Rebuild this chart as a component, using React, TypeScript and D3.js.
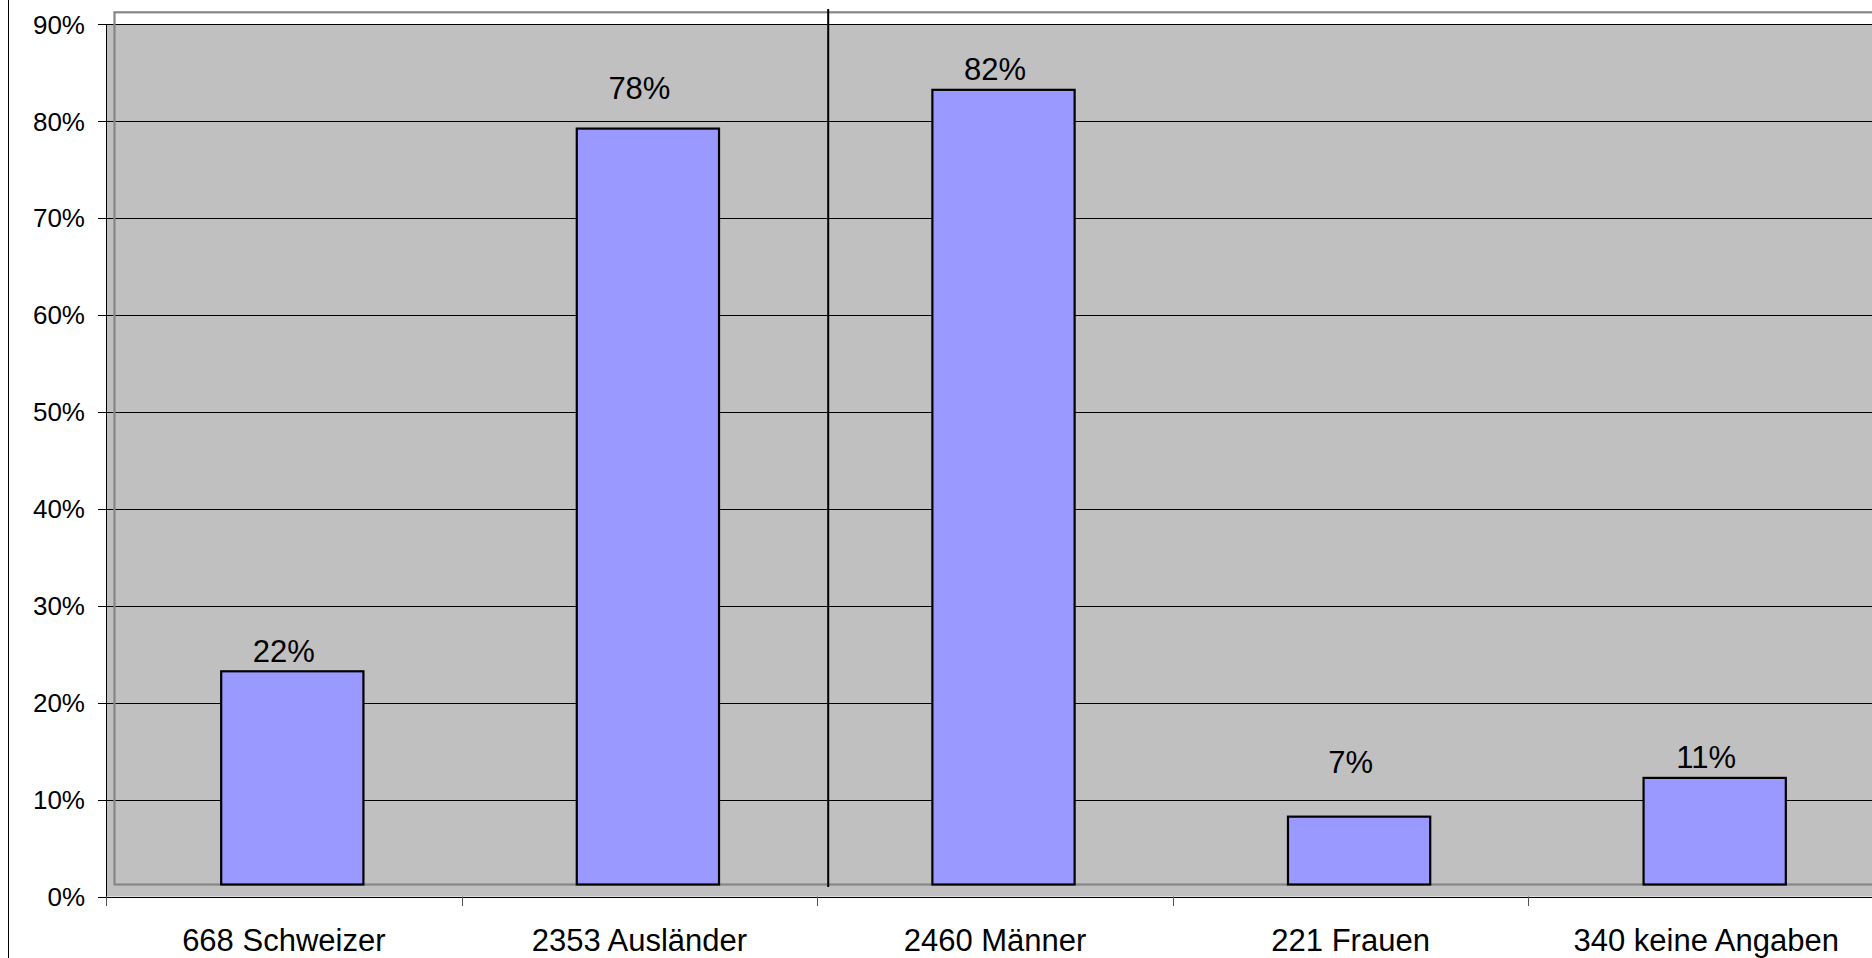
import React, { useEffect } from "react";
import * as d3 from "d3";

const categories = ["668 Schweizer", "2353 Ausländer", "2460 Männer", "221 Frauen", "340 keine Angaben"];
const values = [22, 78, 82, 7, 11];
const valueLabels = ["22%", "78%", "82%", "7%", "11%"];
const yTicks = [0, 10, 20, 30, 40, 50, 60, 70, 80, 90];

const W = 1872;
const H = 958;
const FONT = "'Liberation Sans', Arial, Helvetica, sans-serif";

export default function App() {
  useEffect(() => {
    document.body.style.margin = "0";
    document.body.style.overflow = "hidden";
  }, []);

  const plotLeft = 106;
  const bandW = 355.6;
  const y = d3.scaleLinear().domain([0, 90]).range([896.5, 24.3]);
  const x = d3
    .scaleBand<string>()
    .domain(categories)
    .range([plotLeft, plotLeft + bandW * categories.length])
    .paddingInner(0)
    .paddingOuter(0);
  const bw = x.bandwidth();
  const dx = 8.5;
  const dy = -12;
  const labelLift = [0, 20, 0, 34, 0];
  const y0 = y(0);
  const yTop = y(90);

  return (
    <svg width={W} height={H} style={{ position: "absolute", left: 0, top: 0, display: "block" }}>
      <rect x={0} y={0} width={W} height={H} fill="#ffffff" />
      {/* left border */}
      <line x1={8.5} x2={8.5} y1={0} y2={H} stroke="#000" strokeWidth={1} />
      {/* plot fill */}
      <rect x={plotLeft} y={yTop} width={W - plotLeft} height={y0 - yTop} fill="#C0C0C0" />
      {/* gridlines */}
      {yTicks.map((t) => (
        <line key={"g" + t} x1={98} x2={W} y1={Math.round(y(t)) + 0.5} y2={Math.round(y(t)) + 0.5} stroke="#000" strokeWidth={1} />
      ))}
      {/* offset outline */}
      <rect x={plotLeft + dx} y={yTop + dy} width={W} height={y0 - yTop} fill="none" stroke="#868686" strokeWidth={2.2} />
      {/* y axis */}
      <line x1={plotLeft + 0.5} x2={plotLeft + 0.5} y1={yTop} y2={906} stroke="#000" strokeWidth={1} />
      {/* x axis */}
      <line x1={plotLeft} x2={W} y1={Math.round(y0) + 0.5} y2={Math.round(y0) + 0.5} stroke="#000" strokeWidth={1.2} />
      {categories.map((c) => (
        <line key={"t" + c} x1={Math.round(x(c)!) + 0.5} x2={Math.round(x(c)!) + 0.5} y1={y0} y2={906} stroke="#555" strokeWidth={1} />
      ))}
      {/* y tick labels */}
      {yTicks.map((t) => (
        <text key={"yl" + t} x={85} y={y(t)} dy="0.36em" textAnchor="end" fontFamily={FONT} fontSize={26} fill="#000">
          {t + "%"}
        </text>
      ))}
      {/* bars */}
      {values.map((v, i) => {
        const cx = x(categories[i])! + bw / 2;
        const w = bw * 0.4;
        return (
          <rect
            key={"b" + i}
            x={cx - w / 2 + dx}
            y={y(v) + dy}
            width={w}
            height={y0 - y(v)}
            fill="#9999FF"
            stroke="#000"
            strokeWidth={2.2}
          />
        );
      })}
      {/* value labels */}
      {values.map((v, i) => {
        const cx = x(categories[i])! + bw / 2;
        return (
          <text key={"vl" + i} x={cx} y={y(v) + dy - 9.5 - labelLift[i]} textAnchor="middle" fontFamily={FONT} fontSize={31} fill="#000">
            {valueLabels[i]}
          </text>
        );
      })}
      {/* separator line */}
      <line x1={x(categories[2])! + 11} x2={x(categories[2])! + 11} y1={9} y2={887} stroke="#000" strokeWidth={2} />
      {/* x labels */}
      {categories.map((c) => (
        <text key={"xl" + c} x={x(c)! + bw / 2} y={951} textAnchor="middle" fontFamily={FONT} fontSize={31} fill="#000">
          {c}
        </text>
      ))}
    </svg>
  );
}
